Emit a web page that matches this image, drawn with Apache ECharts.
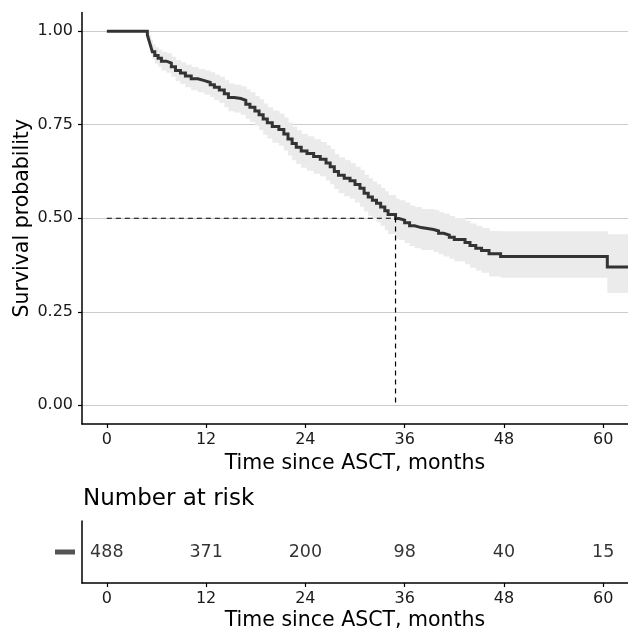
<!DOCTYPE html>
<html>
<head>
<meta charset="utf-8">
<script src="https://cdn.jsdelivr.net/npm/echarts@6/dist/echarts.min.js"></script>
<style>html,body{margin:0;padding:0;background:#fff;}#c{width:628px;height:628px;}</style>
</head>
<body>
<div id="c"></div>
<script>
// ---- data ----
var times = [0, 4.9, 5.1, 5.3, 5.5, 5.8, 6.2, 6.6, 7.2, 7.8, 8.3, 8.9, 9.5, 10.2, 11.0, 11.8, 12.5, 13.0, 13.6, 14.2, 14.7, 15.4, 16.2, 16.8, 17.3, 17.9, 18.4, 18.9, 19.4, 20.0, 20.8, 21.4, 21.9, 22.4, 22.9, 23.5, 24.2, 25.0, 25.8, 26.5, 27.0, 27.5, 28.0, 28.7, 29.4, 30.0, 30.6, 31.1, 31.6, 32.1, 32.6, 33.1, 33.6, 34.0, 34.9, 35.3, 36.0, 36.6, 37.2, 38.0, 39.5, 40.1, 40.7, 41.4, 42.0, 43.3, 43.9, 44.6, 45.3, 46.2, 47.6, 60.5, 63];
var surv = [1, 0.99, 0.975, 0.96, 0.945, 0.935, 0.928, 0.92, 0.915, 0.905, 0.895, 0.888, 0.88, 0.873, 0.868, 0.863, 0.857, 0.85, 0.843, 0.833, 0.823, 0.82, 0.815, 0.805, 0.797, 0.787, 0.777, 0.765, 0.755, 0.745, 0.737, 0.725, 0.712, 0.70, 0.69, 0.68, 0.673, 0.665, 0.658, 0.648, 0.638, 0.625, 0.615, 0.607, 0.60, 0.59, 0.58, 0.567, 0.557, 0.548, 0.54, 0.53, 0.52, 0.51, 0.499, 0.495, 0.488, 0.48, 0.475, 0.47, 0.466, 0.46, 0.455, 0.449, 0.443, 0.435, 0.427, 0.42, 0.414, 0.405, 0.398, 0.37, 0.37];
var lower = [1, 0.98, 0.96, 0.942, 0.925, 0.913, 0.905, 0.895, 0.889, 0.878, 0.867, 0.859, 0.85, 0.842, 0.837, 0.831, 0.824, 0.816, 0.808, 0.797, 0.786, 0.783, 0.777, 0.766, 0.757, 0.747, 0.736, 0.723, 0.713, 0.702, 0.694, 0.681, 0.668, 0.655, 0.645, 0.635, 0.627, 0.619, 0.612, 0.601, 0.591, 0.578, 0.567, 0.559, 0.552, 0.542, 0.531, 0.518, 0.507, 0.498, 0.489, 0.479, 0.468, 0.458, 0.446, 0.442, 0.434, 0.426, 0.42, 0.415, 0.41, 0.404, 0.398, 0.392, 0.385, 0.377, 0.368, 0.36, 0.354, 0.344, 0.341, 0.30, 0.30];
var upper = [1, 1.0, 0.99, 0.978, 0.965, 0.957, 0.951, 0.945, 0.941, 0.932, 0.923, 0.917, 0.91, 0.904, 0.899, 0.895, 0.89, 0.884, 0.878, 0.869, 0.86, 0.857, 0.853, 0.844, 0.837, 0.827, 0.818, 0.807, 0.797, 0.788, 0.78, 0.769, 0.756, 0.745, 0.735, 0.725, 0.719, 0.711, 0.704, 0.695, 0.685, 0.672, 0.663, 0.655, 0.648, 0.638, 0.629, 0.616, 0.607, 0.598, 0.591, 0.581, 0.572, 0.562, 0.552, 0.548, 0.542, 0.534, 0.53, 0.525, 0.522, 0.516, 0.512, 0.506, 0.501, 0.493, 0.486, 0.48, 0.474, 0.466, 0.465, 0.457, 0.457];
var medianTime = 34.9;
var medianSurv = 0.5;
var xTicks = [0, 12, 24, 36, 48, 60];
var yTicks = [0, 0.25, 0.5, 0.75, 1];
var riskCounts = [488, 371, 200, 98, 40, 15];

// ---- build series data ----
var lineData = times.map(function (t, i) { return [t, surv[i]]; });
var bandData = [];
for (var i = 0; i < times.length - 1; i++) {
  bandData.push([times[i], times[i + 1], lower[i], upper[i]]);
}
var medianData = [[0, medianSurv], [medianTime, medianSurv], [medianTime, 0]];
var riskData = xTicks.map(function (t, i) { return [t, 0, riskCounts[i]]; });

var FONT = 'DejaVu Sans';
function xAxisCfg(gi, gap) {
  return {
    type: 'value', gridIndex: gi, min: -3, max: 63,
    name: 'Time since ASCT, months', nameLocation: 'middle', nameGap: gap, nameMoveOverlap: false,
    nameTextStyle: { fontFamily: FONT, fontSize: 20.5, color: '#000' },
    axisLine: { show: true, onZero: false, lineStyle: { color: '#000', width: 1.5 } },
    axisTick: { show: true, length: 4, customValues: xTicks, lineStyle: { color: '#000', width: 1.2 } },
    axisLabel: { customValues: xTicks, fontFamily: FONT, fontSize: 16, color: '#1a1a1a', margin: 8 },
    splitLine: { show: false }
  };
}

var chart = echarts.init(document.getElementById('c'), null, { renderer: 'canvas' });
chart.setOption({
  animation: false,
  backgroundColor: '#fff',
  title: {
    text: 'Number at risk', left: 83, top: 488, padding: 0,
    textStyle: { fontFamily: FONT, fontSize: 23, fontWeight: 'normal', color: '#000' }
  },
  grid: [
    { left: 82, right: 0, top: 12.5, height: 411.5, containLabel: false, outerBoundsMode: 'none' },
    { left: 82, right: 0, top: 521, height: 62, containLabel: false, outerBoundsMode: 'none' }
  ],
  xAxis: [xAxisCfg(0, 29), xAxisCfg(1, 27)],
  yAxis: [
    {
      type: 'value', gridIndex: 0, min: -0.05, max: 1.05,
      name: 'Survival probability', nameLocation: 'middle', nameGap: 49, nameMoveOverlap: false,
      nameTextStyle: { fontFamily: FONT, fontSize: 20.5, color: '#000' },
      axisLine: { show: true, onZero: false, lineStyle: { color: '#000', width: 1.5 } },
      axisTick: { show: true, length: 4, customValues: yTicks, lineStyle: { color: '#000', width: 1.2 } },
      axisLabel: { customValues: yTicks, fontFamily: FONT, fontSize: 16, color: '#1a1a1a', margin: 9,
        formatter: function (v) { return v.toFixed(2); } },
      splitLine: { show: true, lineStyle: { color: '#cccccc', width: 1 } }
    },
    {
      type: 'category', gridIndex: 1, data: ['strata'],
      axisLine: { show: true, onZero: false, lineStyle: { color: '#000', width: 1.5 } },
      axisTick: { show: false },
      axisLabel: { margin: 7, formatter: function () { return '{d|}'; },
        rich: { d: { width: 20, height: 5, backgroundColor: '#555' } } },
      splitLine: { show: false }
    }
  ],
  series: [
    {
      type: 'custom', xAxisIndex: 0, yAxisIndex: 0, z: 1, clip: true,
      dimensions: ['t0', 't1', 'lo', 'hi'],
      encode: { x: [0, 1], y: [2, 3] },
      data: bandData,
      renderItem: function (params, api) {
        var p1 = api.coord([api.value(0), api.value(3)]);
        var p2 = api.coord([api.value(1), api.value(2)]);
        return {
          type: 'rect',
          shape: { x: p1[0], y: p1[1], width: p2[0] - p1[0] + 0.7, height: p2[1] - p1[1] },
          style: { fill: '#ebebeb', stroke: null }
        };
      }
    },
    {
      type: 'line', xAxisIndex: 0, yAxisIndex: 0, z: 3, step: 'end',
      data: lineData, showSymbol: false, symbol: 'none', clip: true,
      lineStyle: { color: '#333333', width: 3, join: 'miter', cap: 'butt' }
    },
    {
      type: 'line', xAxisIndex: 0, yAxisIndex: 0, z: 4,
      data: medianData, showSymbol: false, symbol: 'none',
      lineStyle: { color: '#000', width: 1.2, type: [5, 4] }
    },
    {
      type: 'scatter', xAxisIndex: 1, yAxisIndex: 1,
      data: riskData, symbolSize: 1, itemStyle: { color: 'rgba(0,0,0,0)' },
      label: { show: true, position: 'inside', fontFamily: FONT, fontSize: 17.5, color: '#000',
        formatter: function (p) { return String(p.value[2]); } }
    }
  ]
});
</script>
</body>
</html>
